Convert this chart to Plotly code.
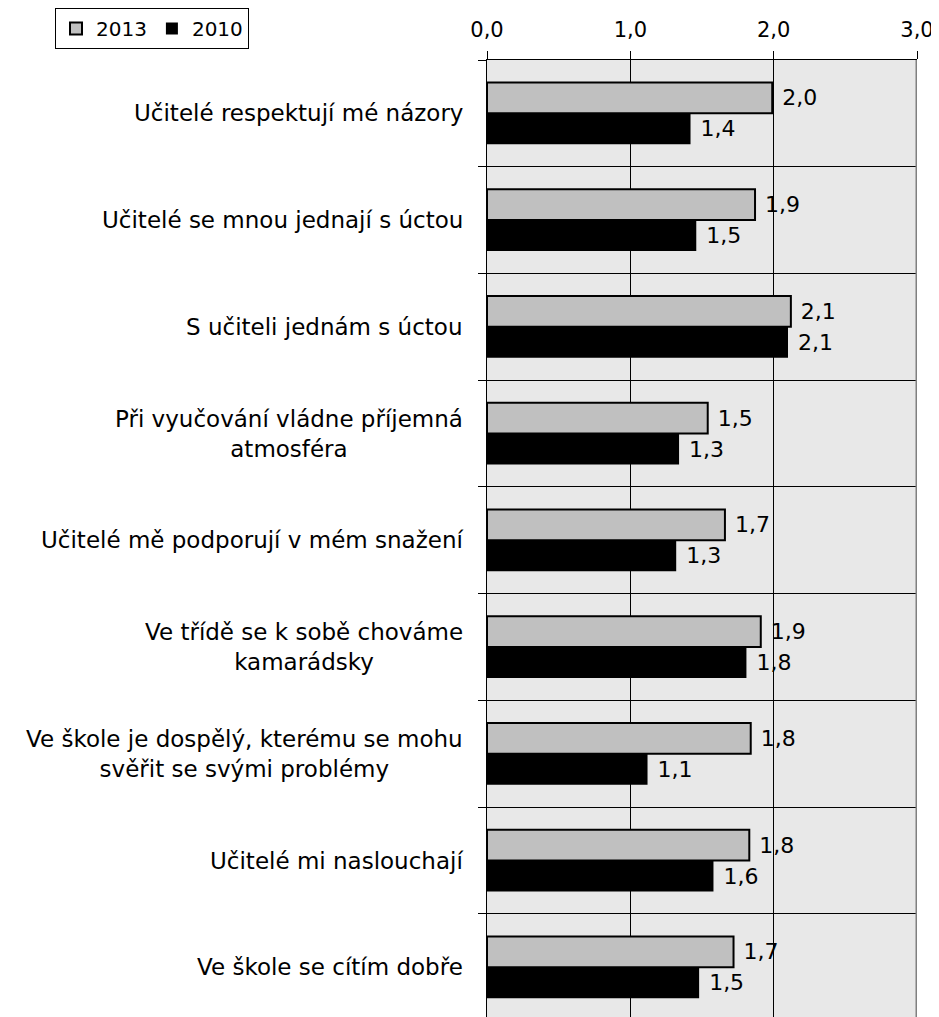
import plotly.graph_objects as go

categories = [
    "Učitelé respektují mé názory",
    "Učitelé se mnou jednají s úctou",
    "S učiteli jednám s úctou",
    "Při vyučování vládne příjemná<br>atmosféra",
    "Učitelé mě podporují v mém snažení",
    "Ve třídě se k sobě chováme<br>kamarádsky",
    "Ve škole je dospělý, kterému se mohu<br>svěřit se svými problémy",
    "Učitelé mi naslouchají",
    "Ve škole se cítím dobře",
]
values_2013 = [1.99, 1.87, 2.12, 1.54, 1.66, 1.91, 1.84, 1.83, 1.72]
values_2010 = [1.42, 1.46, 2.10, 1.34, 1.32, 1.81, 1.12, 1.58, 1.48]
x_ticks = [0, 1, 2, 3]

FONT = "DejaVu Sans, Liberation Sans, Arial, sans-serif"

fig = go.Figure()
fig.add_trace(go.Bar(
    name="2013", y=categories, x=values_2013, orientation="h",
    marker=dict(color="#c0c0c0", line=dict(color="black", width=2)),
    texttemplate="\u00a0%{x:.1f}", textposition="outside",
    textfont=dict(size=22, color="black", family=FONT),
    cliponaxis=False, constraintext="none", hoverinfo="skip",
))
fig.add_trace(go.Bar(
    name="2010", y=categories, x=values_2010, orientation="h",
    marker=dict(color="black", line=dict(color="black", width=0)),
    texttemplate="\u00a0%{x:.1f}", textposition="outside",
    textfont=dict(size=22, color="black", family=FONT),
    cliponaxis=False, constraintext="none", hoverinfo="skip",
))

for c in categories:
    fig.add_annotation(
        x=0, xref="paper", y=c, yref="y", xanchor="right", yanchor="middle",
        xshift=-22, text=c, align="center", showarrow=False,
        font=dict(size=23, color="black", family=FONT),
    )

fig.add_shape(type="line", xref="x", yref="paper", x0=3, x1=3, y0=0, y1=1,
              line=dict(color="#808080", width=3))

fig.update_layout(
    width=960, height=1009,
    margin=dict(l=479, r=51, t=52, b=0, pad=0, autoexpand=False),
    paper_bgcolor="white",
    plot_bgcolor="#e8e8e8",
    barmode="group", bargap=0.42, bargroupgap=0,
    separators=", ",
    font=dict(family=FONT, size=20, color="black"),
    showlegend=True,
    legend=dict(
        orientation="h", xref="container", yref="container",
        x=47 / 960, y=1.0, xanchor="left", yanchor="top",
        bgcolor="white", bordercolor="black", borderwidth=1,
        font=dict(size=20, family=FONT), traceorder="normal",
    ),
    xaxis=dict(
        side="top", range=[0, 3], tickvals=x_ticks, tickformat=".1f",
        ticks="outside", ticklen=8, tickcolor="black", tickwidth=1,
        ticklabelstandoff=6,
        showgrid=True, gridcolor="black", gridwidth=1,
        showline=True, linecolor="black", linewidth=1, zeroline=False,
        tickfont=dict(size=21, family=FONT),
    ),
    yaxis=dict(
        type="category", categoryorder="array", categoryarray=categories,
        range=[8.465, -0.5], tickson="boundaries",
        ticks="outside", ticklen=8, tickcolor="black", tickwidth=1,
        showgrid=True, gridcolor="black", gridwidth=1,
        showline=True, linecolor="black", linewidth=1,
        showticklabels=False, zeroline=False,
    ),
)

fig.write_html("out.html")
